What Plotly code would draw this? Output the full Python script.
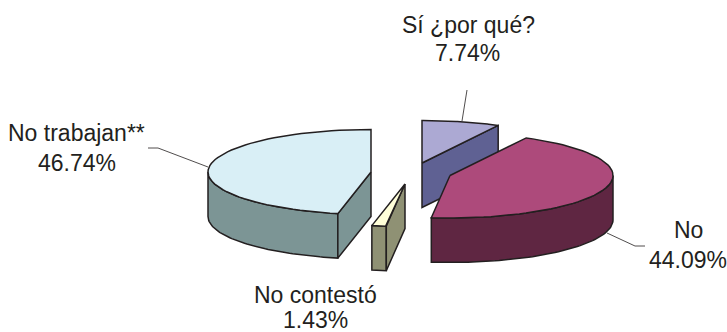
import math
import plotly.graph_objects as go

categories = ["Sí ¿por qué?", "No", "No contestó", "No trabajan**"]
values = [7.74, 44.09, 1.43, 46.74]

top_colors = ["#ACA9D3", "#AD4A7B", "#FFFFD9", "#D9EFF6"]
wall_colors = ["#5F6193", "#5F2642", "#8F9174", "#7C9595"]
centers = [(422, 163), (450, 175.5), (405, 184), (371, 172)]
draw_order = [3, 2, 0, 1]
RX, RY, DEPTH = 163, 42.5, 44.5
OUTLINE = "#231F20"

# label layout: (x, y of first line, x of second line, y of second line)
label_pos = [(468, 25, 467, 53), (688, 230, 687.5, 260), (315.5, 295, 315.5, 320), (76.5, 133, 76.5, 162.5)]
leaders = [
    ([462, 467], [121, 90]),
    ([607, 635, 645], [233, 246, 246]),
    ([], []),
    ([208, 158, 148], [167, 148, 148]),
]

starts, s = [], 0.0
for v in values:
    starts.append(s)
    s += v
total = s


def rim(c, th):
    return c[0] + RX * math.sin(th), c[1] - RY * math.cos(th)


def arc(c, a, b, n=60):
    return [rim(c, a + (b - a) * i / n) for i in range(n + 1)]


def poly(pts, color):
    xs = [p[0] for p in pts] + [pts[0][0]]
    ys = [p[1] for p in pts] + [pts[0][1]]
    return go.Scatter(x=xs, y=ys, mode="lines", fill="toself", fillcolor=color,
                      line=dict(color=OUTLINE, width=1.5), hoverinfo="skip", showlegend=False)


fig = go.Figure()
for i in draw_order:
    c = centers[i]
    a = starts[i] / total * 2 * math.pi
    b = (starts[i] + values[i]) / total * 2 * math.pi
    # outer wall on the front half of the ellipse
    lo, hi = max(a, math.pi / 2), min(b, 3 * math.pi / 2)
    if hi > lo:
        pts = arc(c, lo, hi)
        pts = pts + [(x, y + DEPTH) for x, y in reversed(pts)]
        fig.add_trace(poly(pts, wall_colors[i]))
    # visible cut faces
    for th, vis in ((a, math.sin(a) < -1e-9), (b, math.sin(b) > 1e-9)):
        if vis:
            r = rim(c, th)
            fig.add_trace(poly([c, r, (r[0], r[1] + DEPTH), (c[0], c[1] + DEPTH)], wall_colors[i]))
    # top face
    fig.add_trace(poly([c] + arc(c, a, b), top_colors[i]))

for xs, ys in leaders:
    if xs:
        fig.add_trace(go.Scatter(x=xs, y=ys, mode="lines", line=dict(color=OUTLINE, width=0.8),
                                 hoverinfo="skip", showlegend=False))

for name, v, (x1, y1, x2, y2) in zip(categories, values, label_pos):
    for txt, x, y in ((name, x1, y1), (f"{v:.2f}%", x2, y2)):
        fig.add_annotation(x=x, y=y, text=txt, showarrow=False, xanchor="center", yanchor="middle",
                           font=dict(family="Liberation Sans, Arial, sans-serif", size=23, color="#231F20"))

fig.update_xaxes(range=[0, 727], visible=False, fixedrange=True)
fig.update_yaxes(range=[332, 0], visible=False, fixedrange=True)
fig.update_layout(width=727, height=332, margin=dict(l=0, r=0, t=0, b=0),
                  paper_bgcolor="white", plot_bgcolor="white", showlegend=False)
fig.write_html("out.html", config={"displayModeBar": False},
               post_script="document.body.style.margin='0';document.body.style.overflow='hidden';")
